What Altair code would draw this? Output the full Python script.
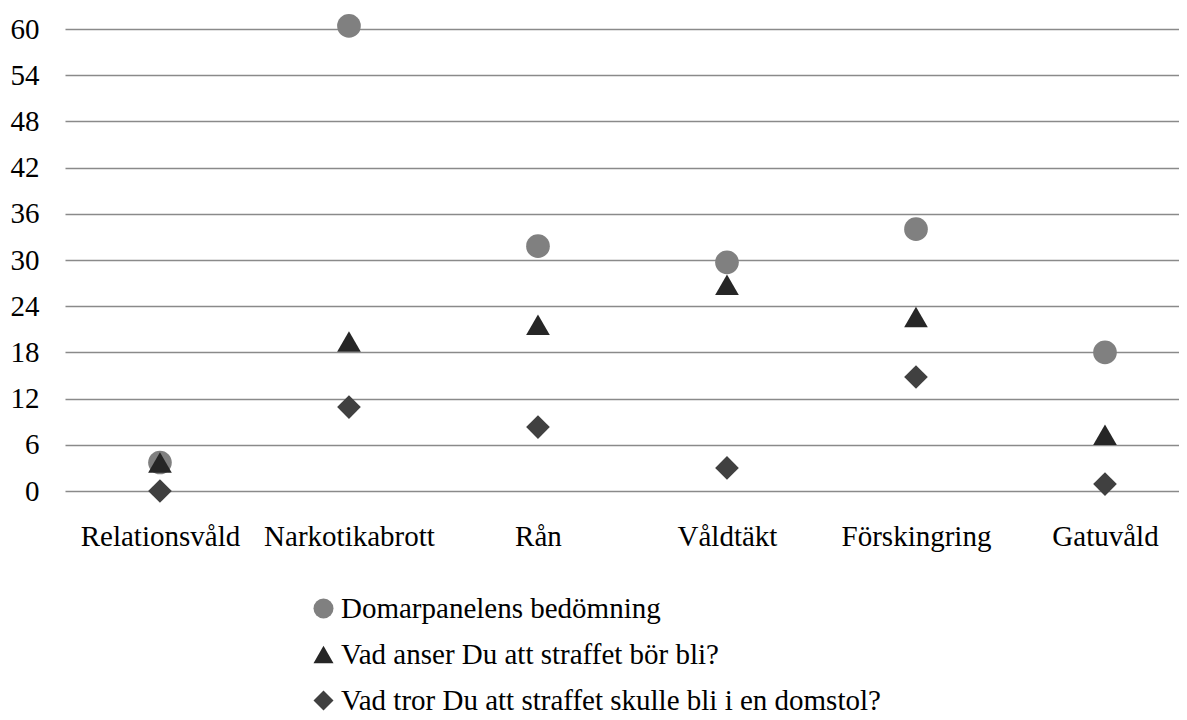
import altair as alt
import pandas as pd

categories = ["Relationsvåld", "Narkotikabrott", "Rån", "Våldtäkt", "Förskingring", "Gatuvåld"]
series_names = ["Domarpanelens bedömning",
                "Vad anser Du att straffet bör bli?",
                "Vad tror Du att straffet skulle bli i en domstol?"]
domarpanel = [3.7, 60.4, 31.8, 29.7, 34.0, 18.0]
anser = [3.7, 19.4, 21.6, 26.8, 22.6, 7.3]
tror = [0.0, 10.9, 8.3, 3.0, 14.8, 0.9]
y_ticks = [0, 6, 12, 18, 24, 30, 36, 42, 48, 54, 60]

rows = []
for name, vals in zip(series_names, [domarpanel, anser, tror]):
    for c, v in zip(categories, vals):
        rows.append({"Kategori": c, "Serie": name, "Värde": v})
df = pd.DataFrame(rows)

FONT = "Liberation Serif"
FS = 29

chart = alt.Chart(df).mark_point(filled=True, opacity=1, size=560).encode(
    x=alt.X("Kategori:N", sort=categories,
            scale=alt.Scale(type="point", padding=0.447, align=0.562),
            axis=alt.Axis(title=None, labelAngle=0, ticks=False, domain=False,
                          labelFontSize=FS, labelFont=FONT, labelColor="#000",
                          labelPadding=31, grid=False)),
    y=alt.Y("Värde:Q", scale=alt.Scale(domain=[0, 60], nice=False, zero=True),
            axis=alt.Axis(title=None, values=y_ticks, ticks=False, domain=False,
                          labelFontSize=FS, labelFont=FONT, labelColor="#000",
                          labelPadding=26, grid=True, gridColor="#8a8a8a",
                          gridWidth=1.6)),
    color=alt.Color("Serie:N", sort=series_names,
                    scale=alt.Scale(domain=series_names, range=["#808080", "#262626", "#404040"]),
                    legend=alt.Legend(title=None, orient="none", legendX=244, legendY=565,
                                      direction="vertical", labelFont=FONT, labelFontSize=FS,
                                      labelColor="#000", symbolSize=400, rowPadding=16,
                                      labelOffset=3, symbolStrokeWidth=0, labelLimit=800)),
    shape=alt.Shape("Serie:N", sort=series_names,
                    scale=alt.Scale(domain=series_names, range=["circle", "triangle-up", "diamond"])),
).properties(
    width=1114, height=462,
    autosize=alt.AutoSizeParams(type="none"),
    padding={"left": 57, "top": 21, "right": 0, "bottom": 225},
).configure(background="white").configure_view(stroke=None)

chart.save("out.html", embed_options={"renderer": "svg", "actions": False})
